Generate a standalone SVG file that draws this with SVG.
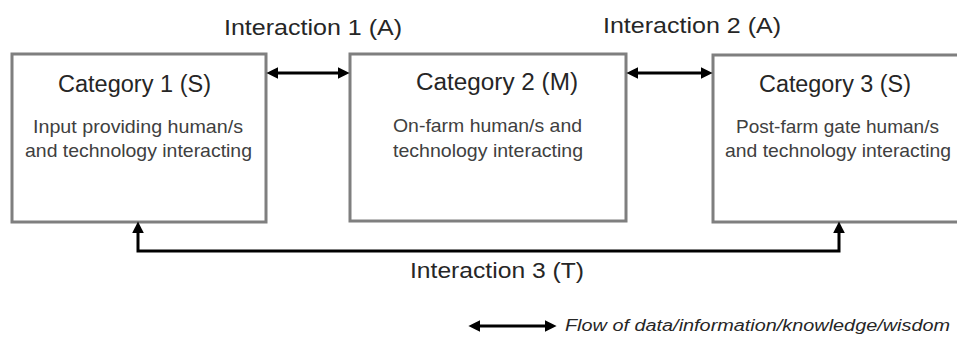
<svg xmlns="http://www.w3.org/2000/svg" width="957" height="339" viewBox="0 0 957 339">
<style>
.box{fill:#ffffff;stroke:#7f7f7f;stroke-width:3}
.title{font-family:"Liberation Sans",Arial,sans-serif;font-size:23px;fill:#262626}
.sub{font-family:"Liberation Sans",Arial,sans-serif;font-size:19px;fill:#404040}
.lbl{font-family:"Liberation Sans",Arial,sans-serif;font-size:22px;fill:#262626}
.leg{font-family:"Liberation Sans",Arial,sans-serif;font-size:16px;font-style:italic;fill:#262626}
.con{fill:none;stroke:#000000;stroke-width:3;marker-start:url(#ah);marker-end:url(#ah)}
</style>
<defs>
<marker id="ah" markerUnits="userSpaceOnUse" markerWidth="12" markerHeight="12" viewBox="0 0 10 10" refX="2" refY="5" orient="auto-start-reverse">
<path d="M0,0 L10,5 L0,10 z" fill="#000000"/>
</marker>
</defs>
<rect x="0" y="0" width="957" height="339" fill="#ffffff"/>
<g id="node-cat1">
<rect class="box" x="12" y="54" width="254" height="168"/>
<text class="title" x="58" y="92" textLength="153" lengthAdjust="spacingAndGlyphs">Category 1 (S)</text>
<text class="sub" x="33" y="133" textLength="210" lengthAdjust="spacingAndGlyphs">Input providing human/s</text>
<text class="sub" x="25" y="157" textLength="227" lengthAdjust="spacingAndGlyphs">and technology interacting</text>
</g>
<g id="node-cat2">
<rect class="box" x="350" y="54" width="276" height="167"/>
<text class="title" x="416" y="90" textLength="162" lengthAdjust="spacingAndGlyphs">Category 2 (M)</text>
<text class="sub" x="393" y="132" textLength="189" lengthAdjust="spacingAndGlyphs">On-farm human/s and</text>
<text class="sub" x="393" y="157" textLength="190" lengthAdjust="spacingAndGlyphs">technology interacting</text>
</g>
<g id="node-cat3">
<rect class="box" x="713" y="55" width="252" height="167"/>
<text class="title" x="759" y="92" textLength="152" lengthAdjust="spacingAndGlyphs">Category 3 (S)</text>
<text class="sub" x="736" y="133" textLength="203" lengthAdjust="spacingAndGlyphs">Post-farm gate human/s</text>
<text class="sub" x="725" y="157" textLength="226" lengthAdjust="spacingAndGlyphs">and technology interacting</text>
</g>
<g id="connectors">
<path class="con" d="M276,73 H340"/>
<path class="con" d="M636,73 H703"/>
<path class="con" d="M138,231 V251 H839 V231"/>
<text class="lbl" x="224" y="35" textLength="178" lengthAdjust="spacingAndGlyphs">Interaction 1 (A)</text>
<text class="lbl" x="603" y="33" textLength="178" lengthAdjust="spacingAndGlyphs">Interaction 2 (A)</text>
<text class="lbl" x="410" y="278" textLength="174" lengthAdjust="spacingAndGlyphs">Interaction 3 (T)</text>
</g>
<g id="legend">
<path class="con" d="M478,326 H547"/>
<text class="leg" x="565" y="331" textLength="385" lengthAdjust="spacingAndGlyphs">Flow of data/information/knowledge/wisdom</text>
</g>
</svg>
